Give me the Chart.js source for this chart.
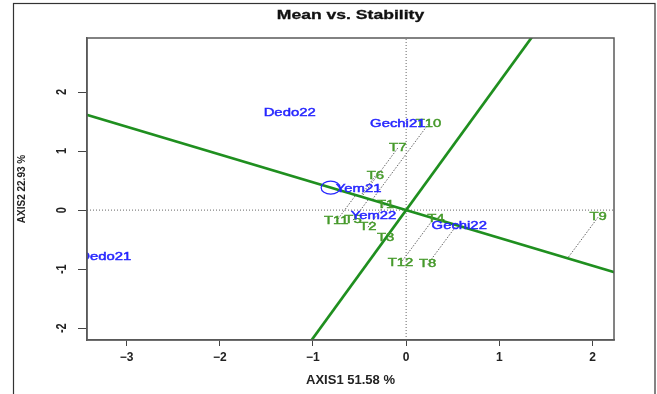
<!DOCTYPE html>
<html>
<head>
<meta charset="utf-8">
<title>Mean vs. Stability</title>
<script src="https://cdn.jsdelivr.net/npm/chart.js@4.4.1/dist/chart.umd.min.js"></script>
<style>
  html, body { margin: 0; padding: 0; background: #fff; }
  #wrap { width: 657px; height: 394px; }
</style>
</head>
<body>
<div id="wrap"><canvas id="biplot" width="657" height="394"></canvas></div>
<script>
// genotypes (green labels), coordinates
const genotypes = ['T1', 'T2', 'T3', 'T4', 'T5', 'T6', 'T7', 'T8', 'T9', 'T10', 'T11', 'T12'];
const genoX = [-0.22, -0.41, -0.22, 0.32, -0.57, -0.33, -0.09, 0.23, 2.06, 0.24, -0.75, -0.06];
const genoY = [0.09, -0.29, -0.47, -0.15, -0.17, 0.58, 1.05, -0.92, -0.12, 1.46, -0.19, -0.90];

// environments (blue labels)
const envs = ['Dedo21', 'Dedo22', 'Gechi21', 'Gechi22', 'Yem21', 'Yem22'];
const envX = [-3.23, -1.25, -0.09, 0.57, -0.51, -0.35];
const envY = [-0.80, 1.64, 1.46, -0.27, 0.36, -0.10];

// average environment (small circle) and the two axes through the origin
const avgEnv = [-0.81, 0.38];
const ataSlope = -0.4705;   // average environment axis
const atcSlope = 2.17;      // perpendicular axis

const xRange = [-3.425, 2.231];
const yRange = [-2.2, 2.915];
const xTickValues = [-3, -2, -1, 0, 1, 2];
const yTickValues = [-2, -1, 0, 1, 2];

const GREEN_LINE = '#1f8f1f';
const GENO_COL = '#45992a';
const ENV_COL = '#2626ff';
const STRETCH = 1.35; // the original picture is wider than tall

Chart.defaults.font.family = "'Liberation Sans', Arial, sans-serif";

function project(x, y) {
    const t = (x + ataSlope * y) / (1 + ataSlope * ataSlope);
    return { x: t, y: t * ataSlope };
}

function lineSet(points, color, width, dash) {
    return {
        data: points,
        showLine: true,
        borderColor: color,
        borderWidth: width,
        borderDash: dash || [],
        pointRadius: 0,
        fill: false
    };
}

const datasets = [];
// green axes (first = drawn on top)
datasets.push(lineSet([{ x: -3.6, y: -3.6 * ataSlope }, { x: 2.4, y: 2.4 * ataSlope }], GREEN_LINE, 2.7));
datasets.push(lineSet([{ x: -2.4 / atcSlope, y: -2.4 }, { x: 3.1 / atcSlope, y: 3.1 }], GREEN_LINE, 2.7));
// projection of every genotype onto the average environment axis
genotypes.forEach((g, i) => {
    datasets.push(lineSet([{ x: genoX[i], y: genoY[i] }, project(genoX[i], genoY[i])], '#666', 1, [1.5, 1.5]));
});
// dotted zero lines
datasets.push(lineSet([{ x: xRange[0], y: 0 }, { x: xRange[1], y: 0 }], '#666', 1, [1, 2]));
datasets.push(lineSet([{ x: 0, y: yRange[0] }, { x: 0, y: yRange[1] }], '#666', 1, [1, 2]));

function stretchedText(ctx, text, x, y) {
    ctx.save();
    ctx.translate(x, y);
    ctx.scale(STRETCH, 1);
    ctx.strokeText(text, 0, 0);
    ctx.fillText(text, 0, 0);
    ctx.restore();
}

const framePlugin = {
    id: 'frame',
    beforeDraw(chart) {
        const ctx = chart.ctx;
        ctx.save();
        ctx.fillStyle = '#fff';
        ctx.fillRect(0, 0, chart.width, chart.height);
        ctx.restore();
    },
    afterDraw(chart) {
        const ctx = chart.ctx;
        const a = chart.chartArea;
        ctx.save();
        // plot box
        ctx.strokeStyle = '#5a5a5a';
        ctx.lineWidth = 1.5;
        ctx.strokeRect(a.left, a.top, a.right - a.left, a.bottom - a.top);
        // outer frame of the picture
        ctx.strokeStyle = '#333';
        ctx.lineWidth = 1.2;
        ctx.strokeRect(13.5, 3.5, 641.5, 420);
        // title
        ctx.fillStyle = '#111';
        ctx.strokeStyle = '#111';
        ctx.lineWidth = 0.3;
        ctx.font = "bold 13px 'Liberation Sans', Arial, sans-serif";
        ctx.textAlign = 'center';
        ctx.textBaseline = 'middle';
        stretchedText(ctx, 'Mean vs. Stability', (a.left + a.right) / 2, 15);
        // y tick labels, vertical as in R
        const ys = chart.scales.y;
        ctx.font = "bold 11px 'Liberation Sans', Arial, sans-serif";
        ctx.fillStyle = '#222';
        yTickValues.forEach(v => {
            ctx.save();
            ctx.translate(62, ys.getPixelForValue(v));
            ctx.rotate(-Math.PI / 2);
            ctx.scale(1, STRETCH);
            ctx.fillText(String(v), 0, 0);
            ctx.restore();
        });
        ctx.restore();
    }
};

const labelPlugin = {
    id: 'labels',
    afterDatasetsDraw(chart) {
        const ctx = chart.ctx;
        const a = chart.chartArea;
        const xs = chart.scales.x, ys = chart.scales.y;
        ctx.save();
        ctx.beginPath();
        ctx.rect(a.left, a.top, a.right - a.left, a.bottom - a.top);
        ctx.clip();
        // average environment circle
        ctx.strokeStyle = ENV_COL;
        ctx.lineWidth = 1.2;
        ctx.beginPath();
        ctx.ellipse(xs.getPixelForValue(avgEnv[0]), ys.getPixelForValue(avgEnv[1]), 9.5, 6.5, 0, 0, Math.PI * 2);
        ctx.stroke();

        ctx.font = "11px 'Liberation Sans', Arial, sans-serif";
        ctx.textAlign = 'center';
        ctx.textBaseline = 'middle';
        ctx.lineWidth = 0.45;
        ctx.fillStyle = GENO_COL;
        ctx.strokeStyle = GENO_COL;
        genotypes.forEach((g, i) => {
            stretchedText(ctx, g, xs.getPixelForValue(genoX[i]), ys.getPixelForValue(genoY[i]));
        });
        ctx.fillStyle = ENV_COL;
        ctx.strokeStyle = ENV_COL;
        envs.forEach((e, i) => {
            stretchedText(ctx, e, xs.getPixelForValue(envX[i]), ys.getPixelForValue(envY[i]));
        });
        ctx.restore();
    }
};

new Chart(document.getElementById('biplot'), {
    type: 'scatter',
    data: { datasets: datasets },
    options: {
        responsive: false,
        animation: false,
        events: [],
        layout: { padding: { top: 38, right: 43, bottom: 0, left: 0 } },
        plugins: {
            legend: { display: false },
            tooltip: { enabled: false },
            title: { display: false }
        },
        scales: {
            x: {
                type: 'linear',
                min: xRange[0],
                max: xRange[1],
                afterBuildTicks: s => { s.ticks = xTickValues.map(v => ({ value: v })); },
                afterFit: s => { s.height = 54; },
                grid: { drawOnChartArea: false, drawTicks: true, tickLength: 6, color: '#444' },
                border: { display: true, color: '#5a5a5a', width: 1.5 },
                ticks: {
                    autoSkip: false,
                    maxRotation: 0,
                    padding: 4,
                    color: '#222',
                    font: { size: 12, weight: 'bold' },
                    callback: v => String(v).replace('-', '\u2212')
                },
                title: {
                    display: true,
                    text: 'AXIS1 51.58 %',
                    color: '#222',
                    font: { size: 13, weight: 'bold' },
                    padding: { top: 0, bottom: 6 }
                }
            },
            y: {
                type: 'linear',
                min: yRange[0],
                max: yRange[1],
                afterBuildTicks: s => { s.ticks = yTickValues.map(v => ({ value: v })); },
                afterFit: s => { s.width = 87; },
                grid: { drawOnChartArea: false, drawTicks: true, tickLength: 9, color: '#444' },
                border: { display: true, color: '#5a5a5a', width: 1.5 },
                ticks: { display: false },
                title: {
                    display: true,
                    text: 'AXIS2 22.93 %',
                    color: '#222',
                    font: { size: 10, weight: 'bold' },
                    padding: { top: 16, bottom: 0 }
                }
            }
        }
    },
    plugins: [framePlugin, labelPlugin]
});
</script>
</body>
</html>
